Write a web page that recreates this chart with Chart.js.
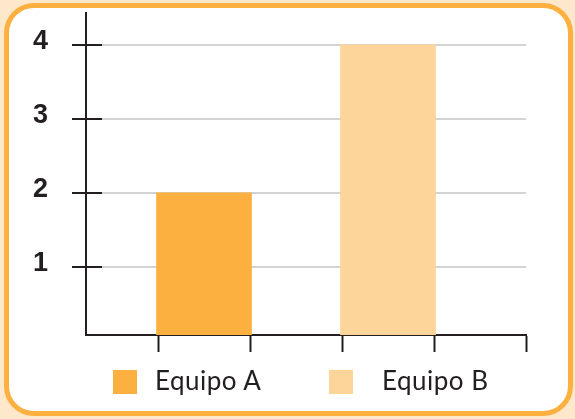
<!DOCTYPE html>
<html>
<head>
<meta charset="utf-8">
<title>Equipos</title>
<script src="https://cdn.jsdelivr.net/npm/chart.js@4.4.0/dist/chart.umd.min.js"></script>
<style>
  html, body { margin: 0; padding: 0; }
  body { width: 575px; height: 419px; background: #fde8cb; position: relative; overflow: hidden; }
  .card {
    position: absolute; left: 4px; top: 3px;
    width: 559px; height: 403px;
    border: 5px solid #fbb040; border-radius: 30px; background: #fff;
  }
  #chart { position: absolute; left: 0; top: 0; }
  #legend {
    position: absolute; left: 113px; top: 370px;
    display: grid; grid-template-columns: 216px 216px;
  }
  .legend-item { display: flex; align-items: center; height: 24px; }
  .legend-box { width: 24px; height: 24px; margin-right: 18px; }
  .legend-item:nth-child(2) .legend-box { margin-right: 29px; }
  .legend-label {
    font-family: Lato, "Open Sans", sans-serif; font-size: 26px; letter-spacing: 0.5px;
    color: #231f20; line-height: 24px; position: relative; top: -2px;
  }
</style>
</head>
<body>
<div class="card"></div>
<canvas id="chart" width="575" height="419"></canvas>
<div id="legend"></div>

<script>
// Data
const categories = ['Equipo A', 'Equipo B'];
const values = [2, 4];
const barPositions = [1, 3];
const barColors = ['#fbb040', '#fdd49a'];
const yTickValues = [1, 2, 3, 4];
const xTickValues = [0.5, 1.5, 2.5, 3.5, 4.5];

const ink = '#231f20';

document.addEventListener('DOMContentLoaded', function() {
  buildLegend();
  buildChart();
});

function buildLegend() {
  const legend = document.getElementById('legend');
  legend.innerHTML = categories.map((name, i) => `
    <div class="legend-item">
      <span class="legend-box" style="background:${barColors[i]}"></span>
      <span class="legend-label">${name}</span>
    </div>
  `).join('');
}

// short dark segment of each y tick that sits inside the plot area
const innerTicks = {
  id: 'innerTicks',
  beforeDatasetsDraw(chart) {
    const { ctx, chartArea, scales } = chart;
    const y = scales.y;
    ctx.save();
    ctx.strokeStyle = ink;
    ctx.lineWidth = 2;
    y.ticks.forEach(t => {
      const py = Math.round(y.getPixelForValue(t.value));
      ctx.beginPath();
      ctx.moveTo(chartArea.left, py);
      ctx.lineTo(chartArea.left + 16, py);
      ctx.stroke();
    });
    ctx.restore();
  }
};

function buildChart() {
  const ctx = document.getElementById('chart');
  new Chart(ctx, {
    type: 'bar',
    data: {
      labels: categories,
      datasets: [{
        label: 'Puntos',
        data: values.map((v, i) => ({ x: barPositions[i], y: v })),
        backgroundColor: barColors,
        borderWidth: 0,
        barThickness: 95
      }]
    },
    options: {
      responsive: false,
      animation: false,
      layout: {
        padding: { top: 13, right: 49, bottom: 64, left: 0 }
      },
      plugins: {
        legend: { display: false },
        tooltip: { enabled: false }
      },
      scales: {
        x: {
          type: 'linear',
          offset: false,
          min: -0.283,
          max: 4.5,
          afterBuildTicks: scale => { scale.ticks = xTickValues.map(v => ({ value: v })); },
          afterFit: scale => {
            scale.height = 20;
            scale.paddingLeft = 0;
            scale.paddingRight = 0;
          },
          grid: {
            offset: false,
            drawOnChartArea: false,
            drawTicks: true,
            tickLength: 17,
            tickColor: ink,
            tickWidth: 2
          },
          border: { display: true, color: ink, width: 2 },
          ticks: { display: false }
        },
        y: {
          min: 0.076,
          max: 4.43,
          afterBuildTicks: scale => { scale.ticks = yTickValues.map(v => ({ value: v })); },
          afterFit: scale => {
            scale.width = 86;
            scale.paddingTop = 0;
            scale.paddingBottom = 0;
          },
          grid: {
            color: '#d1d3d4',
            lineWidth: 2,
            tickColor: ink,
            tickLength: 14,
            tickWidth: 2
          },
          border: { display: true, color: ink, width: 2 },
          ticks: {
            padding: 24,
            labelOffset: -3,
            color: ink,
            font: { family: '"Liberation Sans", Arial, sans-serif', weight: 'bold', size: 27 }
          }
        }
      }
    },
    plugins: [innerTicks]
  });
}
</script>
</body>
</html>
